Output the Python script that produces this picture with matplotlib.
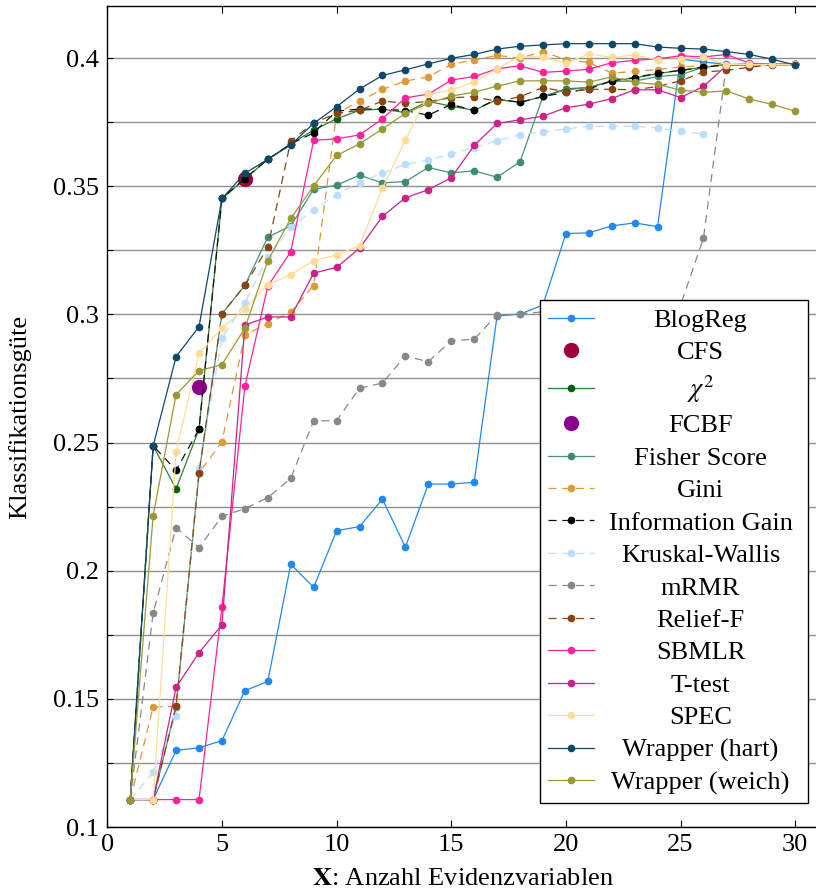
import matplotlib
matplotlib.use("Agg")
import matplotlib.pyplot as plt
from matplotlib.offsetbox import TextArea
from matplotlib.transforms import Bbox

plt.rcParams['font.family'] = ['Liberation Serif', 'DejaVu Serif']
plt.rcParams['mathtext.fontset'] = 'stix'

# number of evidence variables
x = list(range(1, 31))

blogreg = [0.1107, 0.1107, 0.1299, 0.1309, 0.1337, 0.1532, 0.1568, 0.2025, 0.1935, 0.2156,
           0.2172, 0.2279, 0.2092, 0.2338, 0.2338, 0.2345, 0.2994, 0.3001, 0.3036, 0.3315,
           0.3318, 0.3345, 0.3357, 0.3342, 0.3996, 0.3985, 0.3975, 0.3975, 0.3975, 0.3975]
cfs_x = [6]
cfs_y = [0.3528]
chi2 = [0.1107, 0.2487, 0.2319, 0.2552, 0.3452, 0.3528, 0.3605, 0.3665, 0.3719, 0.3763,
        0.3796, 0.3801, 0.3787, 0.3831, 0.3812, 0.3796, 0.3838, 0.3827, 0.3850, 0.3880,
        0.3885, 0.3911, 0.3922, 0.3939, 0.3952, 0.3964, 0.3974, 0.3975, 0.3975, 0.3975]
fcbf_x = [4]
fcbf_y = [0.2718]
fisher = [0.1107, 0.1107, 0.1470, 0.2380, 0.3002, 0.3113, 0.3301, 0.3345, 0.3488, 0.3504,
          0.3543, 0.3513, 0.3518, 0.3573, 0.3552, 0.3560, 0.3535, 0.3595, 0.3850, 0.3876,
          0.3885, 0.3909, 0.3910, 0.3928, 0.3935, 0.3964, 0.3974, 0.3975, 0.3975, 0.3975]
gini = [0.1107, 0.1468, 0.1471, 0.2381, 0.2503, 0.2921, 0.2963, 0.3010, 0.3112, 0.3784,
        0.3831, 0.3878, 0.3910, 0.3927, 0.3975, 0.3993, 0.4010, 0.4000, 0.4025, 0.3993,
        0.3983, 0.3941, 0.3948, 0.3955, 0.3965, 0.3970, 0.3974, 0.3975, 0.3975, 0.3975]
infogain = [0.1107, 0.2487, 0.2392, 0.2552, 0.3452, 0.3530, 0.3605, 0.3665, 0.3708, 0.3793,
            0.3801, 0.3801, 0.3795, 0.3777, 0.3819, 0.3796, 0.3841, 0.3827, 0.3850, 0.3866,
            0.3879, 0.3911, 0.3924, 0.3941, 0.3952, 0.3964, 0.3974, 0.3975, 0.3975, 0.3975]
kruskal = [0.1107, 0.1213, 0.1434, 0.2402, 0.2907, 0.3046, 0.3222, 0.3340, 0.3408, 0.3467,
           0.3514, 0.3551, 0.3585, 0.3601, 0.3627, 0.3650, 0.3678, 0.3700, 0.3712, 0.3723,
           0.3734, 0.3734, 0.3734, 0.3727, 0.3714, 0.3703]
mrmr = [0.1107, 0.1835, 0.2168, 0.2090, 0.2212, 0.2242, 0.2285, 0.2360, 0.2585, 0.2585,
        0.2712, 0.2732, 0.2838, 0.2815, 0.2897, 0.2903, 0.2998, 0.3001, 0.3010, 0.3015,
        0.3020, 0.3025, 0.3028, 0.3032, 0.3036, 0.3297, 0.3974, 0.3975, 0.3975, 0.3975]
relieff = [0.1107, 0.1107, 0.1471, 0.2381, 0.3002, 0.3113, 0.3262, 0.3676, 0.3747, 0.3784,
           0.3796, 0.3832, 0.3824, 0.3830, 0.3845, 0.3849, 0.3831, 0.3849, 0.3885, 0.3868,
           0.3878, 0.3878, 0.3876, 0.3889, 0.3911, 0.3945, 0.3952, 0.3964, 0.3974, 0.3975]
sbmlr = [0.1107, 0.1107, 0.1107, 0.1107, 0.1858, 0.2720, 0.3110, 0.3244, 0.3679, 0.3685,
         0.3700, 0.3763, 0.3845, 0.3859, 0.3914, 0.3928, 0.3958, 0.3970, 0.3944, 0.3949,
         0.3956, 0.3982, 0.3991, 0.3997, 0.4009, 0.4004, 0.4014, 0.3980, 0.3975, 0.3975]
ttest = [0.1107, 0.1107, 0.1545, 0.1680, 0.1789, 0.2958, 0.2990, 0.2990, 0.3161, 0.3183,
         0.3258, 0.3382, 0.3455, 0.3486, 0.3533, 0.3659, 0.3745, 0.3759, 0.3773, 0.3806,
         0.3820, 0.3842, 0.3876, 0.3876, 0.3846, 0.3889, 0.3970, 0.3975, 0.3975, 0.3975]
spec = [0.1107, 0.1107, 0.2464, 0.2848, 0.2946, 0.3021, 0.3116, 0.3155, 0.3209, 0.3232,
        0.3268, 0.3492, 0.3680, 0.3858, 0.3875, 0.3906, 0.3958, 0.4007, 0.4004, 0.3980,
        0.4016, 0.4003, 0.4012, 0.3993, 0.3996, 0.4003, 0.3974, 0.3975, 0.3975, 0.3975]
wrapper_hart = [0.1107, 0.2487, 0.2835, 0.2952, 0.3452, 0.3550, 0.3605, 0.3661, 0.3745, 0.3810,
                0.3879, 0.3932, 0.3954, 0.3977, 0.3999, 0.4014, 0.4035, 0.4046, 0.4051, 0.4056,
                0.4056, 0.4056, 0.4056, 0.4043, 0.4038, 0.4035, 0.4025, 0.4014, 0.3995, 0.3973]
wrapper_weich = [0.1107, 0.2215, 0.2687, 0.2780, 0.2804, 0.2946, 0.3209, 0.3374, 0.3501, 0.3620,
                 0.3665, 0.3723, 0.3784, 0.3823, 0.3851, 0.3867, 0.3890, 0.3911, 0.3911, 0.3911,
                 0.3906, 0.3926, 0.3905, 0.3897, 0.3875, 0.3866, 0.3872, 0.3840, 0.3819, 0.3793]

ytick_vals = [0.1, 0.15, 0.2, 0.25, 0.3, 0.35, 0.4]
ytick_labels = ["0.1", "0.15", "0.2", "0.25", "0.3", "0.35", "0.4"]
ytick_minor = [0.125, 0.175, 0.225, 0.275, 0.325, 0.375]
xtick_vals = [0, 5, 10, 15, 20, 25, 30]

solid = '-'
dashed = (0, (6.5, 4.5))

# label, x, y, line colour, marker colour, linestyle, marker size
series = [
    ("BlogReg", x, blogreg, '#2288ee', '#2288ee', solid, 4.5),
    ("CFS", cfs_x, cfs_y, None, '#a0003c', 'none', 10),
    (r"$\chi^2$", x, chi2, '#2f7f2f', '#0a5f0a', solid, 4.5),
    ("FCBF", fcbf_x, fcbf_y, None, '#8b008b', 'none', 10),
    ("Fisher Score", x, fisher, '#479479', '#3f8c70', solid, 4.5),
    ("Gini", x, gini, '#dd9933', '#dd9933', dashed, 4.5),
    ("Information Gain", x, infogain, '#111111', '#000000', dashed, 4.5),
    ("Kruskal-Wallis", x[:len(kruskal)], kruskal, '#bbddff', '#bbddff', dashed, 4.5),
    ("mRMR", x, mrmr, '#888888', '#888888', dashed, 4.5),
    ("Relief-F", x, relieff, '#884411', '#884411', dashed, 4.5),
    ("SBMLR", x, sbmlr, '#ff2299', '#ff2299', solid, 4.5),
    ("T-test", x, ttest, '#cc2288', '#cc2288', solid, 4.5),
    ("SPEC", x, spec, '#ffdd99', '#ffdd99', solid, 4.5),
    ("Wrapper (hart)", x, wrapper_hart, '#10486a', '#10486a', solid, 4.5),
    ("Wrapper (weich)", x, wrapper_weich, '#999933', '#999933', solid, 4.5),
]

fig = plt.figure(figsize=(8.16, 8.96), dpi=100)
ax = fig.add_axes([107.3 / 816, 69 / 896, 710.8 / 816, 821 / 896])

for label, xs, ys, lc, mc, ls, ms in series:
    ax.plot(xs, ys, color=lc if lc else mc, linestyle=ls, linewidth=0.9,
            marker='o', markersize=ms, markerfacecolor=mc, markeredgecolor=mc,
            label=label, clip_on=False)

ax.set_xticks(xtick_vals)
ax.set_xticklabels([str(v) for v in xtick_vals])
ax.set_yticks(ytick_vals)
ax.set_yticklabels(ytick_labels)
ax.set_yticks(ytick_minor, minor=True)
ax.set_xlim(0, 31)
ax.set_ylim(0.1, 0.4203)
ax.grid(True, axis='y', which='both', color='#8f8f8f', linewidth=1.0)
ax.set_axisbelow(True)

ax.tick_params(axis='both', which='both', direction='in', labelsize=19, width=0.8)
ax.tick_params(axis='x', which='major', length=5, top=True, pad=5)
ax.tick_params(axis='y', which='both', length=4, pad=6)
ax.tick_params(axis='x', which='minor', bottom=False, top=False)
for sp in ax.spines.values():
    sp.set_linewidth(1.0)

ax.set_xlabel(r"$\mathbf{X}$: Anzahl Evidenzvariablen", fontsize=19)
ax.xaxis.set_label_coords(0.5, -0.05)
ax.set_ylabel("Klassifikationsgüte", fontsize=19)
ax.yaxis.set_label_coords(-0.107, 0.5)

leg = ax.legend(loc='lower right', bbox_to_anchor=(0.9858, 0.0292), borderaxespad=0,
                fontsize=19, handlelength=1.75, handletextpad=0.25, borderpad=0.3,
                labelspacing=0.34, fancybox=False, framealpha=1, edgecolor='black')
leg.get_frame().set_linewidth(1.0)

# centre the legend texts in a wider column, like pgfplots does
labels = [s[0] for s in series]
col_w = 199


def text_boxes(box):
    for child in box.get_children():
        if isinstance(child, TextArea):
            yield child
        elif hasattr(child, 'get_children'):
            yield from text_boxes(child)


for ta in text_boxes(leg._legend_box):
    if ta.get_text() not in labels:
        continue

    def centred_bbox(renderer, ta=ta, orig=ta.get_bbox):
        bb = orig(renderer)
        ta._text.set_x((col_w - bb.width) / 2)
        return Bbox.from_bounds(0, bb.y0, col_w, bb.height)

    ta.get_bbox = centred_bbox

fig.savefig("out.png", dpi=100)
